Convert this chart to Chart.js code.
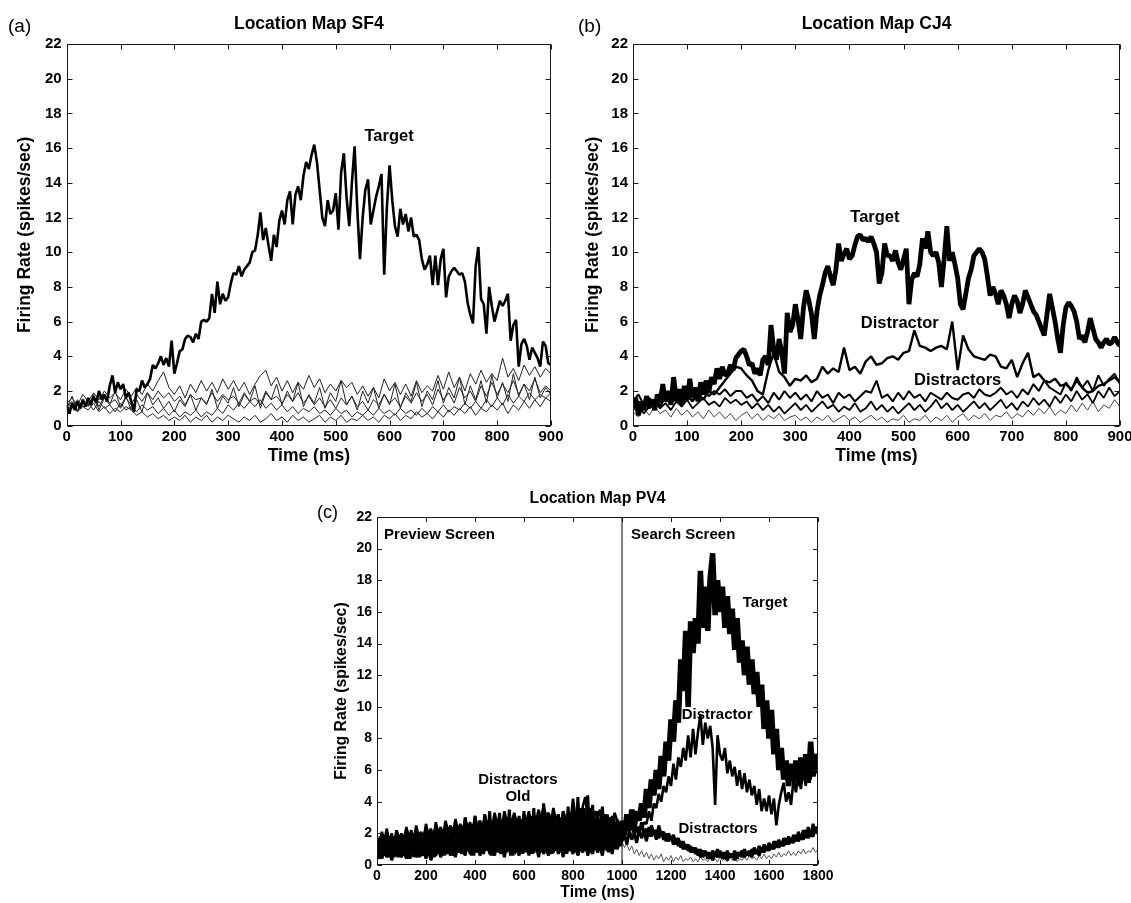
<!DOCTYPE html>
<html>
<head>
<meta charset="utf-8">
<title>Location Map firing rates</title>
<script src="https://cdn.jsdelivr.net/npm/chart.js@4.4.1/dist/chart.umd.min.js"></script>
<style>
  html, body { margin: 0; padding: 0; background: #fff; overflow: hidden; }
  body { width: 1131px; height: 903px; position: relative; }
  canvas { position: absolute; }
</style>
</head>
<body>
<canvas id="panelA" width="565" height="470" style="left:0px;top:0px;width:565px;height:470px"></canvas>
<canvas id="panelB" width="566" height="470" style="left:565px;top:0px;width:566px;height:470px"></canvas>
<canvas id="panelC" width="545" height="433" style="left:290px;top:470px;width:545px;height:433px"></canvas>
<script>
// ---------- axis ticks ----------
const rateTicks = [0, 2, 4, 6, 8, 10, 12, 14, 16, 18, 20, 22];
const timeTicksShort = [0, 100, 200, 300, 400, 500, 600, 700, 800, 900];
const timeTicksLong = [0, 200, 400, 600, 800, 1000, 1200, 1400, 1600, 1800];

// ---------- (a) Location Map SF4 ----------
const sf4TargetStepMs = 5;
const sf4Target = [
  1.2, 0.7, 1.3, 0.9, 1.4, 1.0, 1.5, 1.1, 1.6, 1.2, 1.7, 1.3, 2.0, 1.5, 1.8, 1.4, 2.3, 2.9, 1.9, 2.5,
  2.1, 2.4, 1.6, 1.9, 1.4, 0.8, 2.1, 2.0, 2.6, 2.2, 2.4, 2.7, 3.5, 3.3, 3.6, 4.0, 3.5, 3.9, 3.4, 4.9,
  3.0, 3.6, 4.3, 4.4, 5.0, 5.2, 5.1, 4.8, 5.3, 5.0, 6.0, 6.1, 6.0, 6.2, 7.6, 6.5, 8.3, 7.0, 7.6, 7.2,
  7.4, 8.2, 8.8, 8.7, 9.2, 8.6, 9.0, 9.2, 9.4, 10.0, 10.1, 11.0, 12.3, 10.7, 11.4, 10.4, 9.5, 11.0, 10.3, 11.8,
  12.4, 11.6, 13.0, 13.5, 11.6, 13.3, 13.8, 13.0, 14.4, 15.2, 14.8, 15.6, 16.2, 15.2, 13.6, 12.0, 11.5, 13.0, 12.2, 12.4,
  13.4, 11.3, 14.6, 15.7, 13.2, 11.5, 14.0, 16.1, 12.5, 9.6, 12.0, 13.6, 14.2, 11.6, 12.4, 13.2, 13.8, 14.5, 8.7, 12.6,
  15.0, 13.0, 11.5, 10.9, 12.5, 11.6, 12.2, 11.2, 12.0, 10.9, 11.0, 10.7, 9.6, 9.0, 9.3, 9.8, 8.1, 9.8, 8.1, 9.6,
  10.2, 7.4, 8.6, 8.9, 9.1, 8.9, 8.7, 8.8, 8.3, 7.1, 6.4, 5.9, 9.2, 10.3, 7.3, 7.0, 5.3, 8.0, 6.9, 6.0,
  6.6, 7.2, 6.9, 7.2, 7.6, 4.9, 5.8, 6.1, 3.4, 4.7, 5.0, 4.6, 3.8, 4.5, 4.2, 3.9, 3.4, 4.85, 4.6, 3.6,
  3.5
];
const sf4DistractorStepMs = 10;
const sf4DistractorA = [
  1.3, 1.6, 1.2, 1.8, 1.4, 1.9, 1.5, 2.0, 1.6, 1.9,
  1.5, 2.1, 1.7, 2.2, 1.8, 2.4, 2.0, 2.6, 3.1, 2.2,
  1.8, 2.3, 1.6, 2.4, 1.9, 2.6, 2.0, 2.5, 1.9, 2.7,
  2.1, 2.6, 2.0, 2.5, 1.8, 2.4, 2.9, 3.2, 2.3, 2.8,
  2.0, 2.6, 1.9, 2.5, 2.1, 2.9, 2.2, 2.7, 1.9, 2.4,
  2.0, 2.6, 2.2, 2.5, 1.8, 2.3, 1.7, 2.2, 1.6, 2.7,
  2.0, 2.5, 1.8, 2.4, 1.7, 2.6, 1.9, 2.3, 2.0, 2.9,
  2.1, 3.1, 2.2, 2.8, 2.0, 3.0, 2.4, 3.2, 2.5, 3.0,
  2.6, 3.9, 2.8, 3.3, 2.6, 3.5, 2.9, 3.4, 2.8, 3.3,
  3.0
];
const sf4DistractorB = [
  1.1, 1.4, 0.9, 1.5, 1.2, 1.6, 1.1, 1.7, 1.3, 1.5,
  1.0, 1.6, 1.2, 1.8, 1.4, 1.9, 1.5, 2.0, 1.6, 1.9,
  1.4, 1.7, 1.2, 1.8, 1.5, 1.6, 1.3, 1.9, 1.4, 1.8,
  1.5, 1.7, 1.3, 1.9, 1.4, 1.6, 1.2, 2.0, 1.5, 1.7,
  1.3, 1.8, 1.4, 1.9, 1.3, 1.7, 1.2, 1.6, 1.1, 1.5,
  1.0, 1.6, 1.2, 1.7, 1.1, 1.4, 0.9, 1.5, 1.2, 1.8,
  1.3, 1.6, 1.1, 1.7, 1.3, 1.9, 1.4, 1.8, 1.2, 2.1,
  1.5, 1.9, 1.3, 2.2, 1.6, 2.0, 1.4, 2.3, 1.7, 2.5,
  1.8, 2.4, 1.9, 2.6, 1.8, 2.4, 2.0, 2.7, 1.9, 2.3,
  2.0
];
const sf4DistractorC = [
  1.4, 1.0, 1.5, 1.1, 1.3, 0.9, 1.4, 1.0, 1.2, 0.8,
  1.3, 0.9, 1.1, 0.8, 1.2, 0.9, 1.1, 0.7, 1.0, 0.6,
  0.9, 0.5, 0.8, 0.6, 0.9, 0.5, 0.8, 0.6, 1.0, 0.7,
  1.2, 0.9, 1.3, 1.0, 1.4, 1.1, 1.5, 1.0, 1.3, 0.9,
  1.2, 0.8, 1.1, 0.7, 1.0, 0.8, 1.1, 0.7, 0.9, 0.6,
  1.0, 0.7, 0.9, 0.5, 0.8, 0.6, 0.9, 0.6, 1.0, 0.7,
  0.9, 0.6, 1.0, 0.7, 0.9, 0.6, 1.0, 0.7, 1.1, 0.8,
  1.2, 0.8, 1.1, 0.9, 1.3, 1.0, 1.4, 1.0, 1.5, 1.1,
  1.6, 1.2, 1.8, 1.3, 1.7, 1.4, 1.9, 1.5, 1.8, 1.6,
  1.9
];
const sf4DistractorD = [
  0.9, 1.2, 0.8, 1.1, 0.9, 1.3, 0.8, 1.1, 0.7, 1.0,
  0.8, 1.1, 0.9, 0.6, 0.8, 0.5, 0.7, 0.4, 0.6, 0.3,
  0.5, 0.3, 0.6, 0.2, 0.5, 0.3, 0.6, 0.2, 0.5, 0.3,
  0.6, 0.4, 0.2, 0.5, 0.3, 0.6, 0.2, 0.4, 0.7, 0.3,
  0.5, 0.2, 0.6, 0.3, 0.5, 0.2, 0.4, 0.6, 0.2, 0.5,
  0.3, 0.6, 0.2, 0.4, 0.3, 0.6, 0.3, 0.5, 0.2, 0.6,
  0.4, 0.7, 0.3, 0.6, 0.4, 0.8, 0.5, 0.7, 0.4, 0.8,
  0.5, 0.9, 0.6, 1.0, 0.7, 1.1, 0.6, 1.0, 0.8, 1.2,
  0.9, 1.3, 0.7, 1.2, 0.9, 1.4, 1.0, 1.5, 1.1, 1.6,
  1.4
];
const sf4DistractorE = [
  1.0, 1.7, 0.8, 1.5, 1.1, 1.8, 0.9, 1.6, 1.2, 2.0,
  1.1, 1.7, 0.9, 1.5, 0.8, 1.9, 1.2, 1.6, 1.0, 1.4,
  0.8, 1.5, 1.1, 1.8, 0.9, 1.6, 1.2, 2.1, 1.0, 1.7,
  1.3, 2.2, 1.1, 1.8, 1.4, 2.3, 1.0, 1.9, 1.5, 2.4,
  1.2, 2.0, 1.4, 2.5, 1.1, 1.8, 1.3, 2.2, 1.0, 1.9,
  1.4, 2.6, 1.2, 1.7, 0.9, 2.0, 1.3, 2.2, 1.0, 1.8,
  1.2, 2.4, 1.0, 1.9, 1.4, 2.5, 1.1, 2.0, 1.5, 2.6,
  1.3, 2.2, 1.6, 2.8, 1.2, 2.3, 1.5, 2.6, 1.3, 2.9,
  1.6, 2.5, 1.4, 3.0, 1.7, 2.4, 1.5, 2.8, 1.6, 2.2,
  1.8
];

// ---------- (b) Location Map CJ4 ----------
const cj4TargetStepMs = 5;
const cj4Target = [
  1.0, 1.6, 0.6, 1.4, 0.9, 1.7, 1.1, 1.5, 0.9, 1.8, 1.3, 2.4, 1.4, 2.0, 1.2, 2.8, 1.6, 2.1, 1.3, 2.3,
  1.5, 2.7, 1.6, 2.2, 1.4, 2.5, 1.8, 2.6, 1.9, 2.8, 2.4, 3.3, 2.7, 3.4, 2.9, 3.0, 3.5, 3.2, 3.9, 4.1,
  4.3, 4.4, 4.0, 3.5, 3.6, 3.0, 3.3, 2.9, 3.8, 4.0, 3.5, 5.8, 4.4, 3.8, 5.0, 4.2, 3.0, 6.5, 5.4, 5.8,
  7.0, 6.1, 5.0, 6.8, 7.8, 7.2, 6.4, 5.0, 6.6, 7.5, 8.1, 8.8, 9.2, 8.6, 8.1, 9.0, 10.5, 9.5, 9.9, 10.2,
  9.6, 9.8, 10.4, 10.9, 11.0, 10.7, 10.8, 10.6, 10.9, 10.5, 10.0, 8.2, 8.8, 10.5, 9.8, 9.8, 9.5, 10.1, 9.4, 9.0,
  9.6, 10.2, 7.0, 8.4, 8.8, 8.6, 9.3, 10.8, 10.2, 11.2, 10.0, 9.8, 10.0, 9.4, 8.0, 9.6, 11.5, 9.5, 10.0, 9.3,
  8.5, 7.0, 6.7, 7.6, 8.5, 9.0, 9.8, 10.0, 10.2, 10.0, 9.6, 8.6, 7.5, 8.0, 7.6, 7.0, 7.8, 7.5, 7.0, 6.2,
  7.0, 7.5, 7.2, 6.5, 7.0, 7.8, 7.4, 7.0, 6.6, 6.4, 6.0, 5.6, 5.2, 6.4, 7.6, 6.8, 6.0, 5.0, 4.2, 5.8,
  6.8, 7.1, 6.9, 6.6, 6.0, 5.0, 5.2, 4.8, 5.4, 6.2, 5.6, 5.0, 4.8, 4.5, 4.8, 5.0, 4.7, 4.8, 5.1, 4.8,
  4.6
];
const cj4OtherStepMs = 10;
const cj4Distractor = [
  1.2, 0.8, 1.4, 1.0, 1.5, 1.1, 1.7, 1.3, 1.6, 1.2,
  1.8, 1.4, 1.9, 1.5, 2.0, 1.8, 2.2, 2.6, 3.0, 3.4,
  3.3, 2.9, 2.6, 2.0, 1.8, 3.2, 4.2, 3.1, 2.8, 2.3,
  2.7, 2.6, 2.9, 2.5, 2.7, 3.4, 3.0, 3.3, 3.1, 4.5,
  3.2, 3.4, 3.0, 3.7, 4.0, 3.5, 3.6, 3.9, 4.0, 3.8,
  4.2, 4.3, 5.5, 4.6, 4.5, 4.3, 4.5, 4.6, 4.4, 6.0,
  3.2, 5.2, 4.4, 4.0, 3.9, 3.8, 4.1, 4.0, 3.4, 3.3,
  3.8, 2.8, 3.6, 4.2, 2.8, 3.0, 2.6, 2.5, 2.7, 2.3,
  2.4, 2.1, 2.6, 2.2, 1.9, 2.0, 2.3, 2.4, 2.6, 2.8,
  2.5
];
const cj4DistractorsA = [
  1.4, 1.8, 1.2, 1.6, 1.3, 1.9, 1.5, 1.7, 1.4, 2.0,
  1.6, 1.8, 1.5, 2.1, 1.7, 2.0, 1.8, 2.1, 1.7, 2.0,
  2.0, 1.6, 1.8, 1.4, 1.7, 1.3, 1.9, 1.5, 2.0, 1.6,
  1.9, 1.5, 1.8, 1.4, 2.0, 1.6, 1.8, 1.3, 1.9, 1.6,
  1.8, 1.4, 1.7, 2.0, 1.9, 2.6, 1.6, 1.8, 1.4, 1.9,
  1.5, 2.0, 1.6, 1.8, 1.4, 1.9, 1.7, 1.5, 1.9, 1.6,
  1.5, 1.8, 1.9, 1.6, 2.1, 1.8, 1.7, 1.9, 2.2, 1.8,
  2.0, 1.6, 2.1, 1.8, 2.4, 2.0, 2.6, 2.2, 2.0, 1.8,
  2.5, 2.0, 2.8, 2.2, 2.6, 2.0, 2.9, 2.3, 2.7, 3.0,
  2.4
];
const cj4DistractorsB = [
  0.9, 1.2, 0.7, 1.1, 1.4, 1.0, 1.3, 0.9, 1.4, 1.1,
  1.5, 1.0, 1.3, 1.6, 1.2, 1.4, 1.1, 1.6, 1.3, 1.5,
  1.2, 1.4, 1.0, 1.3, 0.9, 1.2, 0.8, 1.1, 0.7, 1.0,
  1.3, 0.9, 1.2, 0.8, 1.1, 1.4, 1.0, 1.2, 0.8, 1.1,
  0.9, 1.3, 0.8, 1.0, 1.4, 0.9, 1.2, 0.8, 1.1, 0.7,
  1.0, 1.3, 0.9, 1.2, 0.8, 1.1, 1.5, 1.0, 1.3, 0.9,
  1.2, 0.8, 1.1, 1.4, 1.0, 1.3, 0.9, 1.2, 1.5, 1.0,
  1.3, 0.9, 1.4, 1.1, 1.6, 1.2, 1.5, 1.1, 1.7, 1.3,
  1.8, 1.4, 2.0, 1.5, 1.8, 1.3, 2.0, 1.6, 2.2, 1.7,
  2.0
];
const cj4DistractorsC = [
  0.8, 0.5, 1.0, 0.6, 1.1, 0.7, 0.9, 0.5, 1.0, 0.6,
  0.9, 0.5, 0.8, 0.4, 0.9, 0.5, 0.8, 0.4, 0.7, 0.3,
  0.6, 0.8, 0.4, 0.7, 0.3, 0.6, 0.4, 0.7, 0.3, 0.5,
  0.6, 0.3, 0.5, 0.2, 0.5, 0.3, 0.6, 0.2, 0.4, 0.6,
  0.3, 0.5, 0.2, 0.4, 0.6, 0.3, 0.5, 0.2, 0.4, 0.3,
  0.6, 0.2, 0.4, 0.3, 0.6, 0.2, 0.5, 0.3, 0.6, 0.2,
  0.5, 0.7, 0.3, 0.6, 0.4, 0.7, 0.3, 0.6, 0.5, 0.8,
  0.4, 0.7, 0.5, 0.9, 0.6, 1.0, 0.7, 1.1, 0.6, 0.9,
  0.7, 1.2, 0.8, 1.3, 0.9, 1.4, 0.8, 1.2, 1.0, 1.5,
  1.1
];

// ---------- (c) Location Map PV4 ----------
const pv4StepMs = 10;
const pv4SearchOnsetMs = 1000;
const pv4Target = [
  1.2, 0.4, 1.8, 0.6, 1.5, 0.5, 1.7, 0.7, 1.4, 0.5,
  1.9, 0.6, 1.6, 0.4, 2.0, 0.7, 1.5, 0.5, 1.8, 0.6,
  2.1, 0.7, 1.7, 0.5, 2.2, 0.8, 1.9, 0.6, 2.3, 0.7,
  1.9, 0.6, 2.4, 0.8, 2.0, 0.7, 2.5, 0.9, 2.1, 0.6,
  2.6, 0.8, 2.2, 0.7, 2.7, 0.9, 2.3, 0.6, 2.8, 0.8,
  2.4, 0.7, 2.9, 0.9, 2.5, 0.6, 3.0, 0.8, 2.6, 0.7,
  2.9, 0.8, 2.5, 0.7, 3.1, 0.9, 2.7, 0.8, 3.4, 0.9,
  2.8, 0.7, 3.2, 0.9, 2.6, 0.8, 3.0, 0.7, 2.9, 0.9,
  3.3, 0.8, 3.0, 1.0, 3.6, 0.9, 3.1, 0.8, 3.4, 1.0,
  2.9, 0.9, 3.2, 1.0, 2.8, 0.8, 3.0, 1.1, 2.7, 1.2,
  2.8, 1.9, 3.2, 2.2, 3.5, 2.4, 3.4, 2.8, 3.9, 3.0,
  4.8, 3.6, 5.4, 4.4, 6.0, 4.8, 6.9, 5.6, 7.8, 6.6,
  9.2, 7.8, 10.4, 9.0, 13.0, 11.0, 14.8, 10.0, 15.4, 13.4,
  15.6, 14.0, 18.6, 15.0, 17.6, 14.8, 18.2, 19.7, 15.8, 18.0,
  16.0, 17.6, 15.0, 17.0, 14.6, 16.2, 13.6, 15.6, 12.8, 14.2,
  12.0, 13.8, 11.4, 13.0, 10.8, 12.2, 10.0, 11.4, 8.6, 10.4,
  8.0, 9.8, 7.0, 8.6, 6.0, 7.4, 5.4, 6.6, 5.0, 6.4,
  5.4, 6.6, 5.0, 6.8, 5.4, 7.0, 5.2, 7.8, 5.6, 7.0,
  6.4
];
const pv4Distractor = [
  1.8, 1.2, 2.1, 1.5, 2.3, 1.4, 2.0, 1.3, 2.2, 1.6,
  2.0, 1.4, 2.4, 1.7, 2.2, 1.5, 2.5, 1.8, 2.1, 1.6,
  2.6, 1.9, 2.3, 1.6, 2.7, 2.0, 2.4, 1.8, 2.8, 2.1,
  2.5, 1.9, 2.9, 2.2, 2.6, 2.0, 3.0, 2.3, 2.7, 2.1,
  3.1, 2.4, 2.8, 2.2, 3.2, 2.5, 2.9, 2.3, 3.3, 2.6,
  3.0, 2.4, 3.4, 2.7, 3.1, 2.5, 3.3, 2.6, 3.0, 2.4,
  3.2, 2.7, 3.4, 2.5, 3.1, 2.8, 3.5, 2.6, 3.8, 2.9,
  3.3, 2.6, 3.6, 2.8, 3.2, 2.5, 3.4, 2.9, 3.1, 2.7,
  4.2, 3.0, 3.5, 2.8, 3.7, 4.3, 3.1, 3.6, 2.9, 3.4,
  3.0, 3.5, 2.7, 3.2, 2.6, 3.0, 2.5, 3.3, 2.8, 2.4,
  2.0, 2.6, 2.2, 2.8, 2.3, 2.5, 2.1, 2.4, 2.2, 2.7,
  2.6, 3.4, 2.8, 3.9, 3.6, 4.5, 4.0, 5.0, 4.6, 5.6,
  5.0, 6.4, 5.4, 6.8, 6.2, 7.4, 6.6, 8.2, 6.8, 8.6,
  7.0, 8.4, 9.5, 7.6, 9.0, 8.0, 8.8, 7.4, 3.8, 8.2,
  7.0, 6.6, 7.4, 5.8, 6.6, 5.6, 6.2, 5.0, 6.0, 4.8,
  5.8, 4.6, 5.4, 4.4, 5.0, 3.8, 4.8, 3.4, 4.2, 3.4,
  4.4, 3.2, 4.2, 2.5, 3.8, 4.6, 5.2, 4.0, 4.6, 3.8,
  5.4, 4.6, 5.8, 4.8, 6.0, 5.0, 6.4, 5.4, 6.6, 5.8,
  6.5
];
const pv4DistractorsA = [
  1.6, 0.5, 1.9, 0.7, 2.1, 0.6, 1.8, 0.5, 2.2, 0.8,
  2.0, 0.6, 2.3, 0.9, 2.1, 0.5, 2.2, 0.8, 1.9, 0.6,
  2.4, 0.8, 2.2, 0.6, 2.5, 0.9, 2.3, 0.7, 2.6, 1.0,
  2.4, 0.8, 2.7, 1.0, 2.5, 0.7, 3.0, 1.1, 2.6, 0.9,
  3.1, 1.0, 2.8, 0.8, 3.2, 1.1, 3.4, 0.9, 2.9, 1.2,
  3.3, 1.0, 3.0, 0.8, 3.5, 1.1, 3.2, 0.9, 3.1, 1.2,
  3.4, 1.0, 3.1, 0.9, 3.6, 1.2, 3.2, 1.0, 3.9, 1.3,
  3.3, 1.1, 3.5, 1.0, 3.2, 0.9, 3.4, 1.2, 3.7, 1.3,
  3.5, 1.0, 4.3, 1.2, 3.6, 1.1, 4.4, 1.3, 3.8, 1.2,
  3.4, 1.1, 3.7, 1.0, 3.2, 0.9, 3.1, 1.0, 2.9, 1.2,
  2.5, 2.0, 2.8, 2.2, 2.6, 1.9, 2.4, 2.1, 2.7, 2.0,
  2.3, 1.8, 2.5, 2.0, 2.2, 1.7, 2.1, 1.6, 2.0, 1.5,
  1.8, 1.3, 1.7, 1.2, 1.5, 1.0, 1.3, 0.9, 1.2, 0.8,
  1.1, 0.6, 1.0, 0.5, 0.9, 0.4, 0.8, 0.3, 0.7, 0.5,
  0.9, 0.4, 0.8, 0.3, 0.7, 0.5, 0.9, 0.4, 0.8, 0.5,
  1.0, 0.6, 0.9, 0.5, 1.1, 0.7, 1.2, 0.8, 1.3, 0.9,
  1.4, 1.0, 1.5, 1.1, 1.6, 1.2, 1.7, 1.3, 1.8, 1.4,
  1.9, 1.5, 2.1, 1.6, 2.2, 1.7, 2.4, 1.8, 2.6, 2.0,
  2.2
];
const pv4DistractorsB = [
  0.6, 1.1, 0.4, 0.9, 0.5, 1.0, 0.3, 0.8, 0.6, 1.2,
  0.5, 0.9, 0.4, 1.1, 0.7, 1.0, 0.5, 1.2, 0.6, 0.9,
  0.4, 1.0, 0.3, 0.8, 0.6, 1.1, 0.5, 0.9, 0.7, 1.2,
  0.6, 1.0, 0.5, 1.3, 0.8, 1.1, 0.6, 1.4, 0.7, 1.2,
  0.8, 1.3, 0.6, 1.1, 0.9, 1.5, 0.7, 1.2, 0.6, 1.4,
  0.8, 1.2, 0.5, 1.3, 0.9, 1.6, 0.7, 1.1, 0.6, 1.4,
  0.9, 1.3, 0.6, 1.5, 0.8, 1.2, 0.5, 1.4, 0.7, 1.1,
  0.6, 1.3, 0.8, 1.5, 0.7, 1.2, 0.5, 1.4, 0.9, 1.1,
  0.7, 1.3, 0.6, 1.2, 0.8, 1.5, 0.6, 1.1, 0.7, 1.4,
  0.8, 1.2, 0.6, 1.5, 0.9, 1.3, 0.7, 1.6, 1.0, 1.4,
  1.5, 1.9, 1.3, 2.2, 1.6, 2.0, 1.4, 2.3, 1.7, 2.1,
  1.5, 2.4, 1.8, 2.2, 1.6, 2.5, 1.9, 2.1, 1.5, 2.0,
  1.6, 1.9, 1.3, 1.7, 1.1, 1.5, 1.0, 1.3, 0.8, 1.1,
  0.7, 1.0, 0.5, 0.9, 0.6, 0.8, 0.4, 0.9, 0.6, 1.0,
  0.5, 0.8, 0.4, 0.9, 0.5, 0.7, 0.3, 0.8, 0.6, 0.9,
  0.5, 0.8, 0.6, 1.0, 0.7, 0.9, 0.6, 1.1, 0.8, 1.2,
  0.9, 1.3, 1.0, 1.5, 1.1, 1.4, 1.2, 1.7, 1.3, 1.6,
  1.4, 1.9, 1.5, 1.8, 1.6, 2.2, 1.7, 2.0, 1.8, 2.4,
  2.1
];
const pv4DistractorsC = [
  1.2, 0.9, 1.4, 1.0, 1.3, 0.8, 1.5, 1.1, 1.3, 0.9,
  1.4, 1.0, 1.6, 1.2, 1.4, 0.9, 1.5, 1.1, 1.3, 1.0,
  1.5, 1.1, 1.7, 1.2, 1.4, 1.0, 1.6, 1.3, 1.5, 1.1,
  1.7, 1.3, 1.5, 1.0, 1.6, 1.2, 1.8, 1.4, 1.6, 1.1,
  1.7, 1.3, 1.9, 1.4, 1.6, 1.2, 1.8, 1.5, 1.7, 1.3,
  1.9, 1.4, 1.7, 1.2, 1.8, 1.5, 2.0, 1.4, 1.7, 1.3,
  1.8, 1.4, 2.0, 1.5, 1.7, 1.3, 1.9, 1.6, 1.8, 1.4,
  1.9, 1.5, 1.7, 1.3, 2.0, 1.6, 1.8, 1.4, 1.9, 1.5,
  2.0, 1.6, 1.8, 1.4, 1.9, 1.5, 2.1, 1.6, 1.8, 1.4,
  1.9, 1.5, 1.7, 1.3, 1.8, 1.4, 1.6, 1.2, 1.7, 1.3,
  1.5, 1.1, 1.3, 0.9, 1.2, 0.7, 1.0, 0.6, 0.9, 0.5,
  0.8, 0.4, 0.7, 0.3, 0.6, 0.4, 0.7, 0.2, 0.5, 0.3,
  0.6, 0.2, 0.5, 0.3, 0.6, 0.2, 0.4, 0.3, 0.5, 0.2,
  0.4, 0.2, 0.5, 0.3, 0.4, 0.2, 0.5, 0.3, 0.4, 0.2,
  0.5, 0.3, 0.4, 0.2, 0.5, 0.3, 0.6, 0.2, 0.4, 0.3,
  0.5, 0.3, 0.6, 0.4, 0.5, 0.3, 0.6, 0.4, 0.7, 0.4,
  0.6, 0.4, 0.7, 0.5, 0.8, 0.5, 0.7, 0.6, 0.9, 0.6,
  0.8, 0.6, 0.9, 0.7, 1.0, 0.7, 0.9, 0.8, 1.1, 0.8,
  1.0
];

// ---------- drawing helpers ----------
const FONT = '"Liberation Sans", Arial, Helvetica, sans-serif';
Chart.defaults.font.family = FONT;
Chart.defaults.color = '#000';

function series(values, stepMs) {
  return values.map((v, i) => ({ x: i * stepMs, y: v }));
}

function trace(values, stepMs, width, color) {
  return {
    data: series(values, stepMs),
    borderColor: color || '#000',
    borderWidth: width,
    borderJoinStyle: 'bevel',
    pointRadius: 0,
    tension: 0,
    fill: false,
    clip: 0
  };
}

// Box around the axes, inward tick marks on all four sides, panel letter,
// title and the in-plot text labels.
function framePlugin(spec) {
  return {
    id: 'frame',
    afterDatasetsDraw(chart) {
      const { ctx, chartArea: a, scales: { x, y } } = chart;
      ctx.save();
      const L = Math.round(a.left) + 0.5, R = Math.round(a.right) - 0.5;
      const T = Math.round(a.top) + 0.5, B = Math.round(a.bottom) - 0.5;
      ctx.strokeStyle = '#1a1a1a';
      ctx.lineWidth = 1;
      ctx.strokeRect(L, T, R - L, B - T);
      ctx.beginPath();
      x.ticks.forEach(t => {
        const px = Math.round(x.getPixelForValue(t.value)) + 0.5;
        ctx.moveTo(px, B); ctx.lineTo(px, B - spec.tickLen);
        ctx.moveTo(px, T); ctx.lineTo(px, T + spec.tickLen);
      });
      y.ticks.forEach(t => {
        const py = Math.round(y.getPixelForValue(t.value)) + 0.5;
        ctx.moveTo(L, py); ctx.lineTo(L + spec.tickLen, py);
        ctx.moveTo(R, py); ctx.lineTo(R - spec.tickLen, py);
      });
      ctx.stroke();

      ctx.fillStyle = '#000';
      ctx.textBaseline = 'middle';
      spec.notes.forEach(n => {
        ctx.font = 'bold ' + spec.noteSize + 'px ' + FONT;
        ctx.textAlign = n.align || 'center';
        ctx.fillText(n.text, x.getPixelForValue(n.t), y.getPixelForValue(n.v));
      });

      ctx.textAlign = 'center';
      ctx.font = 'bold ' + spec.titleSize + 'px ' + FONT;
      ctx.fillText(spec.title, (a.left + a.right) / 2, spec.titleY);
      ctx.textAlign = 'left';
      ctx.font = spec.letterSize + 'px ' + FONT;
      ctx.fillText(spec.letter, spec.letterX, spec.letterY);
      ctx.restore();
    }
  };
}

function scalesFor(p) {
  return {
    x: {
      type: 'linear', min: 0, max: p.xTicks[p.xTicks.length - 1],
      afterBuildTicks: s => { s.ticks = p.xTicks.map(v => ({ value: v })); },
      ticks: { autoSkip: false, maxRotation: 0, minRotation: 0, padding: p.xTickPad,
               font: { size: p.tickSize, weight: 'bold' }, color: '#000',
               callback: v => String(v) },
      grid: { display: false, drawTicks: false },
      border: { display: false },
      title: { display: true, text: 'Time (ms)', color: '#000',
               font: { size: p.labelSize, weight: 'bold' }, padding: { top: 0, bottom: 0 } },
      afterFit: s => { s.height = p.xHeight; s.paddingLeft = 0; s.paddingRight = 0; }
    },
    y: {
      type: 'linear', min: 0, max: 22,
      afterBuildTicks: s => { s.ticks = rateTicks.map(v => ({ value: v })); },
      ticks: { autoSkip: false, padding: 5, font: { size: p.tickSize, weight: 'bold' },
               color: '#000', callback: v => String(v) },
      grid: { display: false, drawTicks: false },
      border: { display: false },
      title: { display: true, text: 'Firing Rate (spikes/sec)', color: '#000',
               font: { size: p.labelSize, weight: 'bold' }, padding: { top: p.yTitlePad, bottom: 0 } },
      afterFit: s => { s.width = p.yWidth; s.paddingTop = 0; s.paddingBottom = 0; }
    }
  };
}

function makePanel(id, datasets, p, spec) {
  return new Chart(document.getElementById(id), {
    type: 'line',
    data: { datasets },
    options: {
      responsive: false,
      animation: false,
      devicePixelRatio: 1,
      layout: { padding: p.padding },
      plugins: { legend: { display: false }, tooltip: { enabled: false }, title: { display: false } },
      scales: scalesFor(p)
    },
    plugins: [framePlugin(spec)]
  });
}

// ---------- (a) ----------
makePanel('panelA', [
  trace(sf4Target, sf4TargetStepMs, 2.6),
  trace(sf4DistractorA, sf4DistractorStepMs, 1, '#222'),
  trace(sf4DistractorB, sf4DistractorStepMs, 1, '#222'),
  trace(sf4DistractorC, sf4DistractorStepMs, 1, '#222'),
  trace(sf4DistractorD, sf4DistractorStepMs, 1, '#222'),
  trace(sf4DistractorE, sf4DistractorStepMs, 1, '#222')
], {
  xTicks: timeTicksShort, tickSize: 15, labelSize: 17.5, xTickPad: 2, xHeight: 41,
  yWidth: 66.7, yTitlePad: 15, padding: { left: 0, top: 44, right: 14, bottom: 3.3 }
}, {
  title: 'Location Map SF4', titleY: 24, titleSize: 17.5,
  letter: '(a)', letterX: 8, letterY: 27, letterSize: 19,
  tickLen: 5, noteSize: 16.5,
  notes: [{ text: 'Target', t: 599, v: 16.7 }]
});

// ---------- (b) ----------
makePanel('panelB', [
  trace(cj4Target, cj4TargetStepMs, 4.8),
  trace(cj4Distractor, cj4OtherStepMs, 2.4),
  trace(cj4DistractorsA, cj4OtherStepMs, 2),
  trace(cj4DistractorsB, cj4OtherStepMs, 1.8),
  trace(cj4DistractorsC, cj4OtherStepMs, 1, '#444')
], {
  xTicks: timeTicksShort, tickSize: 15, labelSize: 17.5, xTickPad: 2, xHeight: 41,
  yWidth: 68, yTitlePad: 18, padding: { left: 0, top: 44, right: 11, bottom: 3.3 }
}, {
  title: 'Location Map CJ4', titleY: 24, titleSize: 17.5,
  letter: '(b)', letterX: 13, letterY: 27, letterSize: 19,
  tickLen: 5, noteSize: 16.5,
  notes: [
    { text: 'Target', t: 447, v: 12.0 },
    { text: 'Distractor', t: 493, v: 5.9 },
    { text: 'Distractors', t: 600, v: 2.6 }
  ]
});

// ---------- (c) ----------
const onsetLine = {
  data: [{ x: pv4SearchOnsetMs, y: 0 }, { x: pv4SearchOnsetMs, y: 22 }],
  borderColor: '#000', borderWidth: 1, pointRadius: 0, fill: false, clip: 0
};
makePanel('panelC', [
  trace(pv4Target, pv4StepMs, 5.5),
  trace(pv4Distractor, pv4StepMs, 2.6),
  trace(pv4DistractorsA, pv4StepMs, 3),
  trace(pv4DistractorsB, pv4StepMs, 3),
  trace(pv4DistractorsC, pv4StepMs, 1, '#555'),
  onsetLine
], {
  xTicks: timeTicksLong, tickSize: 14, labelSize: 15.8, xTickPad: 3, xHeight: 37.5,
  yWidth: 87, yTitlePad: 42.5, padding: { left: 0, top: 47, right: 17, bottom: 0.5 }
}, {
  title: 'Location Map PV4', titleY: 29, titleSize: 15.8,
  letter: '(c)', letterX: 27, letterY: 43, letterSize: 18,
  tickLen: 4.5, noteSize: 15,
  notes: [
    { text: 'Preview Screen', t: 29, v: 20.9, align: 'left' },
    { text: 'Search Screen', t: 1037, v: 20.9, align: 'left' },
    { text: 'Target', t: 1584, v: 16.6 },
    { text: 'Distractor', t: 1388, v: 9.5 },
    { text: 'Distractors', t: 1392, v: 2.3 },
    { text: 'Distractors', t: 575, v: 5.4 },
    { text: 'Old', t: 575, v: 4.3 }
  ]
});
</script>
</body>
</html>
